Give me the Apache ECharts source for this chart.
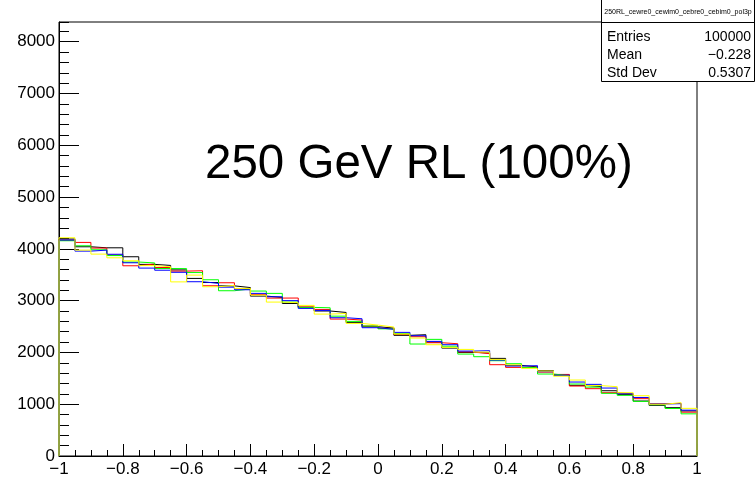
<!DOCTYPE html>
<html>
<head>
<meta charset="utf-8">
<style>
  html, body { margin: 0; padding: 0; background: #fff; }
  #chart { width: 755px; height: 478px; }
</style>
<script src="https://cdn.jsdelivr.net/npm/echarts@6/dist/echarts.min.js"></script>
</head>
<body>
<div id="chart"></div>
<script>
// Histogram binning: 40 bins over [-1, 1]
const xMin = -1;
const xMax = 1;
const nBins = 40;
const yMax = 8380;

// Bin contents per histogram (bin 0 .. bin 39)
const blackCounts = [4190, 4040, 4020, 4020, 3847, 3700, 3680, 3593, 3429, 3350,
  3285, 3252, 3088, 3060, 2945, 2870, 2800, 2772, 2580, 2496,
  2470, 2330, 2342, 2200, 2084, 2000, 1990, 1885, 1750, 1720,
  1647, 1560, 1364, 1340, 1260, 1190, 1061, 978, 933, 870];
const redCounts = [4165, 4124, 4015, 3880, 3673, 3708, 3640, 3570, 3577, 3287,
  3345, 3230, 3120, 3049, 3050, 2880, 2830, 2644, 2625, 2509,
  2464, 2345, 2303, 2187, 2168, 2010, 1975, 1763, 1711, 1715,
  1620, 1575, 1351, 1300, 1222, 1200, 1107, 1010, 1016, 846];
const greenCounts = [4156, 4059, 3982, 3870, 3745, 3728, 3620, 3618, 3542, 3403,
  3191, 3225, 3185, 3140, 2972, 2869, 2862, 2700, 2599, 2510,
  2455, 2362, 2162, 2252, 2120, 1968, 1917, 1840, 1782, 1710,
  1583, 1550, 1390, 1330, 1210, 1171, 1055, 990, 917, 814];
const blueCounts = [4170, 3956, 3975, 3895, 3731, 3628, 3587, 3547, 3365, 3333,
  3260, 3210, 3140, 3075, 3000, 2850, 2811, 2670, 2650, 2477,
  2445, 2387, 2322, 2213, 2149, 2026, 2033, 1853, 1737, 1744,
  1628, 1560, 1428, 1383, 1312, 1203, 1130, 1005, 1010, 885];
const yellowCounts = [4214, 3976, 3898, 3827, 3770, 3676, 3654, 3362, 3493, 3268,
  3295, 3236, 3107, 2972, 2960, 2908, 2740, 2753, 2560, 2528,
  2490, 2355, 2277, 2149, 2097, 2058, 2007, 1865, 1760, 1692,
  1640, 1541, 1467, 1360, 1338, 1222, 1164, 1000, 1030, 920];

// Tick labels
const xTickLabels = ['\u22121', '\u22120.8', '\u22120.6', '\u22120.4', '\u22120.2', '0', '0.2', '0.4', '0.6', '0.8', '1'];
const yTickLabels = ['0', '1000', '2000', '3000', '4000', '5000', '6000', '7000', '8000'];

// Statistics box content
const statsTitle = '250RL_cewre0_cewim0_cebre0_cebim0_pol3p';
const statsRows = [['Entries', '100000'], ['Mean', '\u22120.228'], ['Std Dev', '0.5307']];
const mainLabel = '250 GeV RL (100%)';

const FONT = '"Liberation Sans", Arial, Helvetica, sans-serif';

// Outline of a histogram: rises from zero at the first edge, steps across bins, drops to zero at the last edge
function histOutline(counts) {
  const w = (xMax - xMin) / nBins;
  const pts = [[xMin, 0]];
  for (let i = 0; i < counts.length; i++) pts.push([xMin + i * w, counts[i]]);
  pts.push([xMax, counts[counts.length - 1]]);
  pts.push([xMax, 0]);
  return pts;
}

function histSeries(name, counts, color) {
  return {
    name: name,
    type: 'line',
    step: 'end',
    data: histOutline(counts),
    symbol: 'none',
    silent: true,
    lineStyle: { color: color, width: 1 },
    xAxisIndex: 0,
    yAxisIndex: 0
  };
}

const chart = echarts.init(document.getElementById('chart'), null, { renderer: 'canvas' });

const statsFont = '14px ' + FONT;
const statsRowY = [37, 55, 73];
const statsGraphics = [
  { type: 'rect', x: 601, y: 0, silent: true, shape: { x: 0.5, y: -1, width: 153, height: 82.5 },
    style: { fill: '#fff', stroke: '#000', lineWidth: 1 } },
  { type: 'line', x: 601, y: 0, silent: true, shape: { x1: 0.5, y1: 22.5, x2: 153.5, y2: 22.5 },
    style: { stroke: '#000', lineWidth: 1 } },
  { type: 'text', x: 678, y: 12, silent: true, style: { text: statsTitle, align: 'center', verticalAlign: 'middle',
    font: '7px ' + FONT, fill: '#000' } }
];
statsRows.forEach(function (row, i) {
  statsGraphics.push({ type: 'text', x: 607, y: statsRowY[i], silent: true,
    style: { text: row[0], verticalAlign: 'middle', font: statsFont, fill: '#000' } });
  statsGraphics.push({ type: 'text', x: 751, y: statsRowY[i], silent: true,
    style: { text: row[1], align: 'right', verticalAlign: 'middle', font: statsFont, fill: '#000' } });
});

const option = {
  animation: false,
  backgroundColor: '#fff',
  grid: {
    left: 59, top: 22, right: 58, bottom: 22,
    show: true, borderColor: '#000', borderWidth: 1, backgroundColor: 'transparent'
  },
  xAxis: [{
    type: 'value',
    min: xMin, max: xMax, interval: 0.2,
    axisLine: { show: true, onZero: false, lineStyle: { color: '#000', width: 1 } },
    axisTick: { show: true, inside: true, length: 12, lineStyle: { color: '#000' } },
    minorTick: { show: true, splitNumber: 4, length: 6, lineStyle: { color: '#000' } },
    splitLine: { show: false },
    minorSplitLine: { show: false },
    axisLabel: {
      color: '#000', fontFamily: FONT, fontSize: 17, margin: 5,
      formatter: function (v) {
        const idx = Math.round((v - xMin) / 0.2);
        return xTickLabels[idx] !== undefined ? xTickLabels[idx] : '';
      }
    }
  }],
  yAxis: [{
    type: 'value',
    position: 'left',
    min: 0, max: yMax, interval: 1000,
    axisLine: { show: true, onZero: false, lineStyle: { color: '#000', width: 1 } },
    axisTick: { show: true, inside: true, length: 20, lineStyle: { color: '#000' } },
    splitLine: { show: false },
    axisLabel: {
      color: '#000', fontFamily: FONT, fontSize: 17, margin: 4,
      showMaxLabel: false,
      formatter: function (v) {
        const idx = Math.round(v / 1000);
        return (Math.abs(v - idx * 1000) < 1e-6 && yTickLabels[idx] !== undefined) ? yTickLabels[idx] : '';
      }
    }
  }, {
    // secondary ticks every 200 counts
    type: 'value',
    position: 'left',
    min: 0, max: yMax, interval: 200,
    axisLine: { show: false, onZero: false },
    axisTick: { show: true, inside: true, length: 10, lineStyle: { color: '#000' } },
    splitLine: { show: false },
    axisLabel: { show: false }
  }],
  series: [
    histSeries('black', blackCounts, '#000000'),
    histSeries('red', redCounts, '#ff0000'),
    histSeries('green', greenCounts, '#00ff00'),
    histSeries('blue', blueCounts, '#0000ff'),
    histSeries('yellow', yellowCounts, '#ffff00')
  ],
  graphic: [
    {
      type: 'text', x: 205, y: 141, silent: true,
      style: { text: mainLabel, font: '47.5px ' + FONT, fill: '#000' }
    }
  ].concat(statsGraphics)
};

chart.setOption(option);
</script>
</body>
</html>
